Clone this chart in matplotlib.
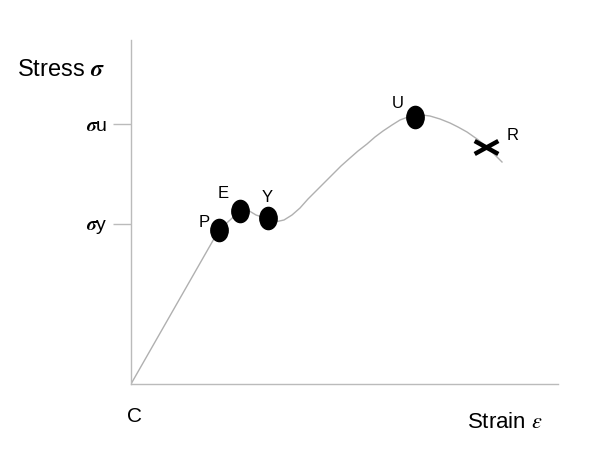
import numpy as np
import matplotlib
matplotlib.use('Agg')
import matplotlib.pyplot as plt
from matplotlib.path import Path
from matplotlib.transforms import Affine2D

plt.rcParams['font.family'] = ['Liberation Sans', 'DejaVu Sans']
plt.rcParams['mathtext.fontset'] = 'stix'

# stress-strain curve (arbitrary units)
strain = [0, 88, 109, 115, 125, 137, 144, 153, 161, 169, 177, 186, 194, 202,
          210, 219, 227, 236, 244, 252, 261, 269, 277, 284, 291, 299, 309, 319,
          327, 336, 346, 356, 364, 371]
stress = [0, 154, 173, 175, 169, 165, 162, 164, 169, 176, 185, 194, 202, 210,
          218, 226, 233, 240, 247, 253, 259, 264, 267, 268, 269, 268, 265, 261,
          257, 252, 245, 237, 229, 222]

# marked points
pt_names = ['P', 'E', 'Y', 'U']
pt_strain = [88, 109, 137, 284]
pt_stress = [154, 173, 166, 267]
r_strain, r_stress = 355, 237

sig_u, sig_y = 260, 160

fig = plt.figure(figsize=(6.15, 4.70), dpi=100)
ax = fig.add_axes([131/615, (470-384)/470, (558-131)/615, (384-40)/470])
ax.set_xlim(0, 427)
ax.set_ylim(0, 344)

ax.plot(strain, stress, color='#b0b0b0', lw=1)

# slightly tall elliptical dot
dot = Affine2D().scale(0.78, 1.0).transform_path(Path.unit_circle())
ax.plot(pt_strain, pt_stress, ls='none', marker=dot, markersize=16, color='black')
cross = Path([(-1, -0.55), (1, 0.55), (-1, 0.55), (1, -0.55)],
             [Path.MOVETO, Path.LINETO, Path.MOVETO, Path.LINETO])
ax.plot([r_strain], [r_stress], ls='none', marker=cross, markersize=17,
        markeredgewidth=3.2, color='black')

offsets = {'P': (-20, 8), 'E': (-22, 17), 'Y': (-6, 21), 'U': (-23, 14)}
for n, xs, ys in zip(pt_names, pt_strain, pt_stress):
    dx, dy = offsets[n]
    ax.text(xs + dx, ys + dy, n, fontsize=12, ha='left', va='center')
ax.text(r_strain + 21, r_stress + 12, 'R', fontsize=12, ha='left', va='center')

for s in ['top', 'right']:
    ax.spines[s].set_visible(False)
for s in ['left', 'bottom']:
    ax.spines[s].set_color('#bbbbbb')
    ax.spines[s].set_linewidth(1)

ax.set_xticks([])
ax.set_yticks([sig_y, sig_u])
ax.set_yticklabels([r'$\boldsymbol{\sigma}$y', r'$\boldsymbol{\sigma}$u'], fontsize=14)
ax.tick_params(axis='y', length=13, color='#bbbbbb', width=1, pad=4)

ax.text(-114, 314, r'Stress $\boldsymbol{\sigma}$', fontsize=17, ha='left', va='center',
        clip_on=False)
ax.text(-4, -33, 'C', fontsize=15, ha='left', va='center', clip_on=False)
ax.text(336, -38, r'Strain $\epsilon$', fontsize=16, ha='left', va='center',
        clip_on=False)

fig.savefig('out.png', dpi=100)
